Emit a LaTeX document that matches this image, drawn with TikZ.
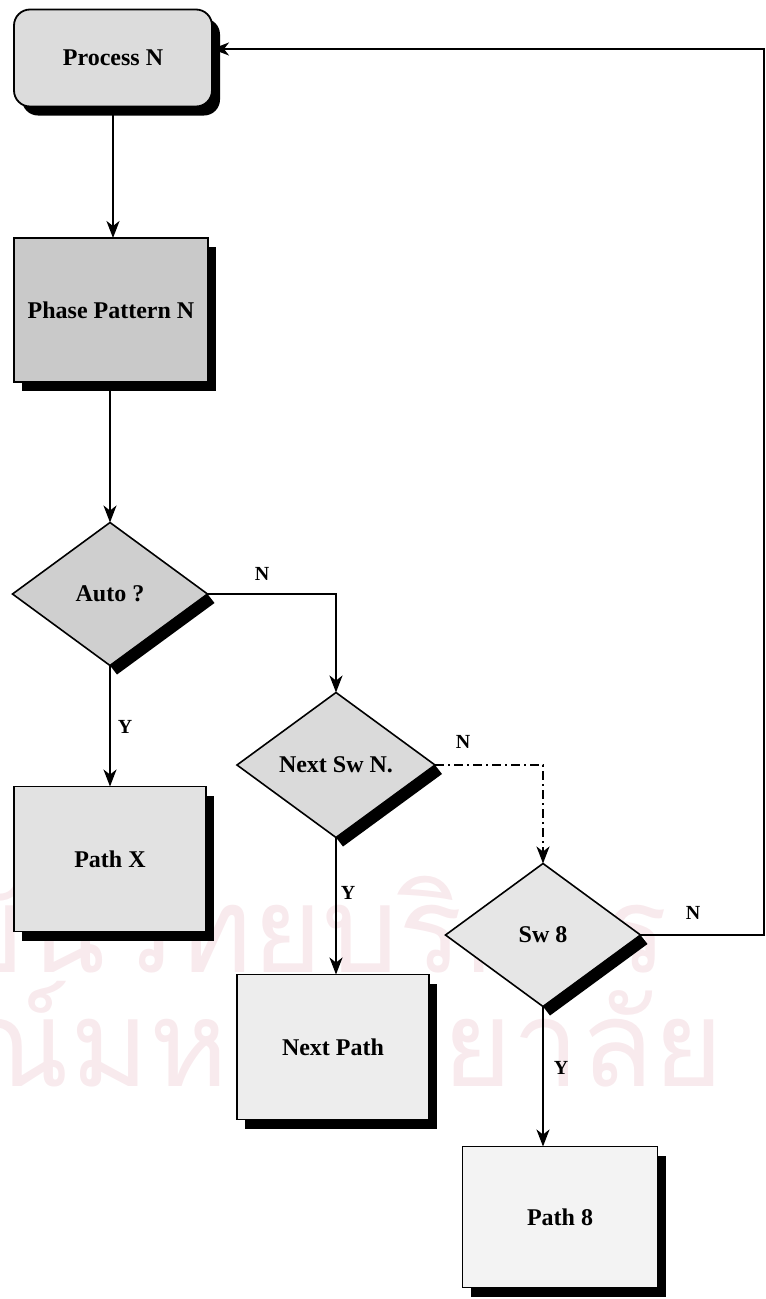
\documentclass[tikz,border=0pt]{standalone}
\usepackage{fontspec}
\setmainfont{Liberation Serif}
\newfontfamily\thaifont[Script=Thai]{Loma}
\usetikzlibrary{shapes.geometric,arrows.meta,shadows}

\definecolor{wmark}{HTML}{F8EAED}
\definecolor{fillA}{HTML}{DCDCDC}
\definecolor{fillB}{HTML}{C9C9C9}
\definecolor{fillC}{HTML}{CFCFCF}
\definecolor{fillD}{HTML}{E2E2E2}
\definecolor{fillE}{HTML}{DADADA}
\definecolor{fillF}{HTML}{EDEDED}
\definecolor{fillG}{HTML}{E6E6E6}
\definecolor{fillH}{HTML}{F3F3F3}

\begin{document}
\begin{tikzpicture}[x=1pt,y=-1pt,
  txt/.style={font=\fontsize{24}{28}\selectfont\bfseries},
  lbl/.style={font=\fontsize{20}{24}\selectfont\bfseries},
  stepbox/.style={draw=black,line width=1.8pt,rectangle,inner sep=0pt,outer sep=0pt,txt,
    general shadow={fill=black,shadow xshift=8pt,shadow yshift=-9pt}},
  startbox/.style={stepbox,rounded corners=16pt},
  decision/.style={draw=black,line width=1.6pt,diamond,inner sep=0pt,outer sep=0pt,txt,
    minimum width=195pt,minimum height=143pt},
  dshadow/.style={fill=black},
  flow/.style={line width=1.8pt,-{Stealth[length=17pt,width=13pt,inset=5pt]}},
  altflow/.style={flow,dash pattern=on 9pt off 4pt on 2pt off 4pt}]

\useasboundingbox (0,0) rectangle (766,1299);

% faint watermark lettering behind the chart
\node[anchor=east,text=wmark,font=\thaifont\fontsize{120}{130}\selectfont,inner sep=0pt]
  (wm1) at (668,925) {สถาบันวิทยบริการ};
\node[anchor=east,text=wmark,font=\thaifont\fontsize{120}{130}\selectfont,inner sep=0pt]
  (wm2) at (724,1050) {จุฬาลงกรณ์มหาวิทยาลัย};

% process blocks
\node[startbox,fill=fillA,minimum width=198pt,minimum height=97pt] (proc) at (113,58) {Process N};
\node[stepbox,fill=fillB,minimum width=194pt,minimum height=144pt] (phase) at (111,310) {Phase Pattern N};
\node[stepbox,fill=fillD,minimum width=192pt,minimum height=145pt] (pathx) at (110,859) {Path X};
\node[stepbox,fill=fillF,minimum width=192pt,minimum height=145pt] (nextpath) at (333,1047) {Next Path};
\node[stepbox,fill=fillH,minimum width=195pt,minimum height=141pt] (path8) at (560,1217) {Path 8};

% decisions
\node[decision,fill=fillC] (auto) at (110,594) {Auto ?};
\node[decision,fill=fillE,minimum width=198pt,minimum height=145pt] (nextsw) at (336,765) {Next Sw N.};
\node[decision,fill=fillG] (sw8) at (543,935) {Sw 8};

% shadow bands along the lower right edge of each decision
\foreach \d in {auto,nextsw,sw8}{
  \fill[dshadow] (\d.east) -- (\d.south) -- ([shift={(7,9)}]\d.south)
    -- ([shift={(7,9)}]\d.east) -- cycle;
}

% connectors
\draw[flow] (proc.south) -- (proc.south |- phase.north);
\draw[flow] (auto.north |- phase.south) -- (auto.north);
\draw[flow] (auto.south) -- (auto.south |- pathx.north);
\draw[flow] (auto.east) -| (nextsw.north);
\draw[flow] (nextsw.south) -- (nextsw.south |- nextpath.north);
\draw[altflow] (nextsw.east) -| (sw8.north);
\draw[flow] (sw8.south) -- (sw8.south |- path8.north);
\coordinate (ret) at (764,49);
\draw[flow] (sw8.east) -| (ret) -- (proc.east |- ret);

% branch labels
\node[lbl] (lautoN) at (262,574) {N};
\node[lbl] (lautoY) at (125,727) {Y};
\node[lbl] (lnextN) at (463,742) {N};
\node[lbl] (lnextY) at (348,893) {Y};
\node[lbl] (lswN) at (693,913) {N};
\node[lbl] (lswY) at (561,1068) {Y};
\end{tikzpicture}
\end{document}
